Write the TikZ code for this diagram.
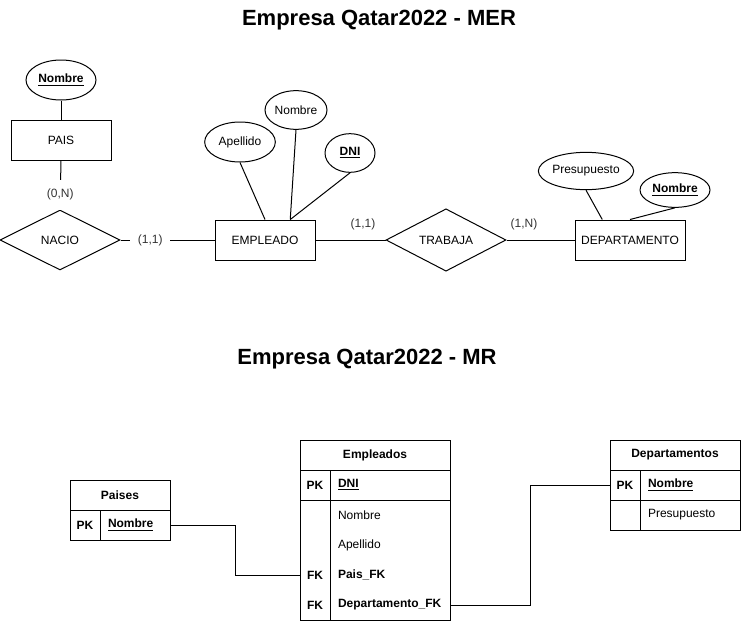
\documentclass[tikz,border=0pt]{standalone}
\usepackage{fontspec}
\setmainfont{Liberation Sans}
\usetikzlibrary{calc,shapes.geometric}
\newcommand\erfont{\fontsize{9}{10.8}\selectfont}
\tikzset{
	every node/.style={font=\erfont},
	titulo/.style={font=\fontsize{16.5}{20}\selectfont\bfseries},
	entidad/.style={draw, rectangle, inner sep=0pt, minimum width=75pt, minimum height=30pt},
	atributo/.style={draw, ellipse, inner sep=0pt},
	relacion/.style={draw, diamond, inner sep=0pt, minimum width=90pt, minimum height=45pt},
	card/.style={text=black!80},
	thead/.style={draw, inner sep=0pt, minimum height=22.5pt, font=\erfont\bfseries},
	tkeyt/.style={inner sep=0pt, minimum width=22.5pt, minimum height=22.5pt, font=\erfont\bfseries},
	tkey/.style={draw, tkeyt},
	tfieldt/.style={inner xsep=6pt, inner ysep=0pt, minimum height=22.5pt, align=left},
	tfield/.style={draw, tfieldt}
}

\begin{document}
\begin{tikzpicture}[x=0.75pt, y=-0.75pt, line width=0.75pt]
			%%%%% START %%%%%
			\useasboundingbox (0,0) rectangle (741,621);
			
			\node[titulo] (tMER) at (379,20) {Empresa Qatar2022 - MER};
			
			% PAIS
			\node[atributo, minimum width=52.5pt, minimum height=30pt] (paisNom) at (61,80) {\underline{\textbf{Nombre}}};
			\node[entidad] (pais) at (61,140) {PAIS};
			\node[relacion] (nacio) at (60,240) {NACIO};
			\draw (paisNom.south) -- (pais.north);
			\draw (pais.south) -- node[card, fill=white, pos=0.7, minimum height=22.5pt, inner sep=1pt] (cardPais) {(0,N)} (nacio.north);
			
			% EMPLEADO
			\node[entidad] (empleado) at (265,240) {EMPLEADO};
			\node[atributo, minimum width=53pt, minimum height=30pt] (empApe) at (240,142) {Apellido};
			\node[atributo, minimum width=46.5pt, minimum height=29pt] (empNom) at (296,110) {Nombre};
			\node[atributo, minimum width=37.5pt, minimum height=29pt] (empDni) at (350,153) {\underline{\textbf{DNI}}};
			\draw (nacio.east) -- node[card, fill=white, pos=0.316, minimum width=30pt] (cardNacio) {(1,1)} (empleado.west);
			\draw (empApe.south) -- (empleado.north);
			\draw (empNom.south) -- ($(empleado.north)!0.5!(empleado.north east)$);
			\draw (empDni.south) -- ($(empleado.north)!0.5!(empleado.north east)$);
			
			% TRABAJA
			\node[relacion] (trabaja) at (446,240) {TRABAJA};
			\node[entidad, minimum width=82.5pt] (depto) at (630,240) {DEPARTAMENTO};
			\node[atributo, minimum width=66pt, minimum height=28pt] (depPre) at (586,171) {Presupuesto};
			\node[atributo, minimum width=52.5pt, minimum height=26pt] (depNom) at (675,190) {\underline{\textbf{Nombre}}};
			\draw (empleado.east) -- (trabaja.west);
			\draw (trabaja.east) -- (depto.west);
			\draw (depPre.south) -- ($(depto.north west)!0.25!(depto.north east)$);
			\draw (depNom.south) -- (depto.north);
			\node[card] (cardEmp) at (363,224) {(1,1)};
			\node[card] (cardDep) at (524,224) {(1,N)};
			
			
			\node[titulo] (tMR) at (367,359) {Empresa Qatar2022 - MR};
			
			% Paises
			\node[thead, minimum width=75pt] (tPaises) at (120,495) {Paises};
			\node[tkey] (pPK) at (85,525) {PK};
			\node[tfield, text width=40.5pt] (pNombre) at (135,525) {\underline{\textbf{Nombre}}};
			
			% Empleados
			\node[thead, minimum width=112.5pt] (tEmp) at (375,455) {Empleados};
			\node[tkey] (ePK) at (315,485) {PK};
			\node[tfield, text width=78pt] (eDNI) at (390,485) {\underline{\textbf{DNI}}};
			\node[draw, inner sep=0pt, minimum width=22.5pt, minimum height=90pt] (eKcol) at (315,560) {};
			\node[draw, inner sep=0pt, minimum width=90pt, minimum height=90pt] (eFcol) at (390,560) {};
			\node[tfieldt, text width=78pt] (eNom) at (390,515) {Nombre};
			\node[tfieldt, text width=78pt] (eApe) at (390,545) {Apellido};
			\node[tkeyt] (eFK1) at (315,575) {FK};
			\node[tfieldt, text width=78pt, font=\erfont\bfseries] (ePais) at (390,575) {Pais\_FK};
			\node[tkeyt] (eFK2) at (315,605) {FK};
			\node[tfieldt, text width=78pt, font=\erfont\bfseries] (eDep) at (390,605) {Departamento\_FK};
			
			% Departamentos
			\node[thead, minimum width=97.5pt] (tDep) at (675,455) {Departamentos};
			\node[tkey] (dPK) at (625,485) {PK};
			\node[tfield, text width=63pt] (dNombre) at (690,485) {\underline{\textbf{Nombre}}};
			\node[tkey] (dK2) at (625,515) {};
			\node[tfield, text width=63pt] (dPres) at (690,515) {Presupuesto};
			
			\draw (pNombre.east) -- ++(65,0) |- (eFK1.west);
			\draw (eDep.east) -- ++(80,0) |- (dPK.west);
			
			%%%%% END %%%%%
		\end{tikzpicture}
\end{document}
